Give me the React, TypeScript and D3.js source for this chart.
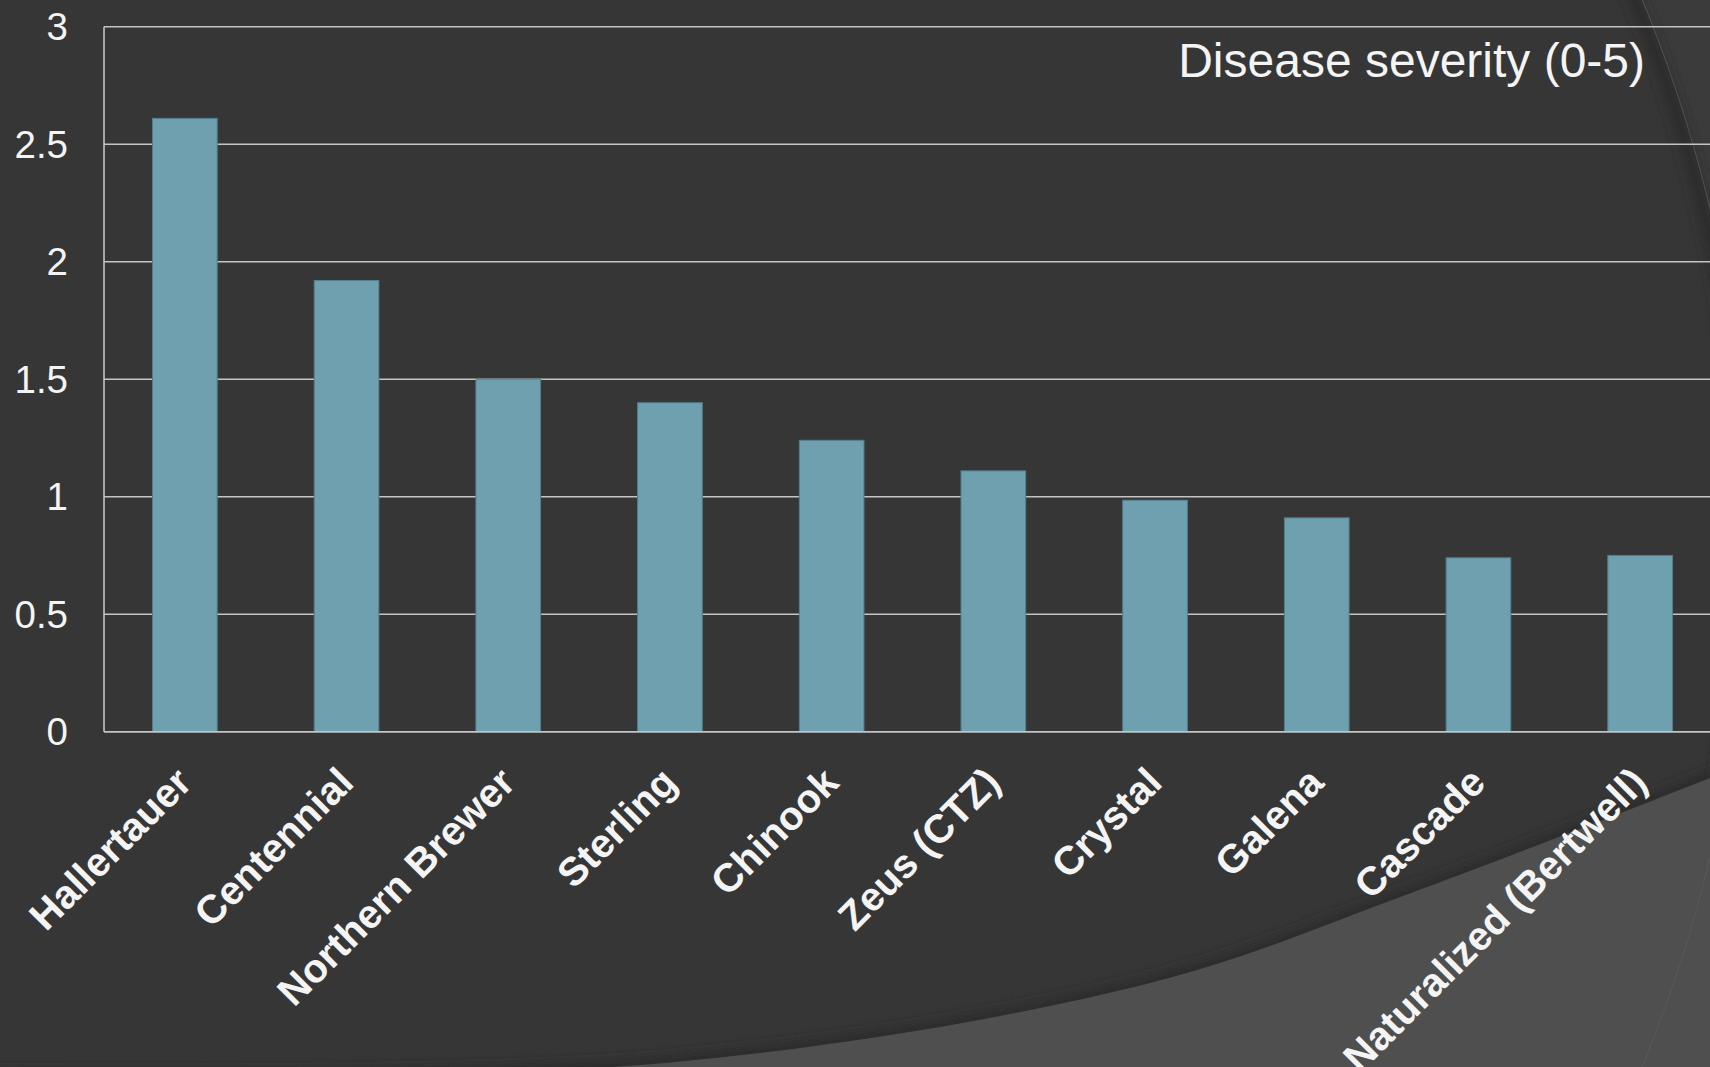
import * as d3 from 'd3'

// hop varieties and mean disease severity (0-5 scale)
const varieties = [
  'Hallertauer',
  'Centennial',
  'Northern Brewer',
  'Sterling',
  'Chinook',
  'Zeus (CTZ)',
  'Crystal',
  'Galena',
  'Cascade',
  'Naturalized (Bertwell)',
]
const severity = [2.61, 1.92, 1.5, 1.4, 1.24, 1.11, 0.985, 0.91, 0.74, 0.75]
const yTicks = [0, 0.5, 1, 1.5, 2, 2.5, 3]
const yTickLabels = ['0', '0.5', '1', '1.5', '2', '2.5', '3']
const title = 'Disease severity (0-5)'

const width = 1710
const height = 1067
const marginLeft = 104
const marginTop = 26.7
const plotBottom = 731.7
const step = 161.7

export default function App() {
  const x = d3
    .scaleBand<string>()
    .domain(varieties)
    .range([marginLeft, marginLeft + step * varieties.length])
    .paddingInner(0.6)
    .paddingOuter(0.3)

  const y = d3.scaleLinear().domain([0, 3]).range([plotBottom, marginTop])

  // slide background decoration
  const lowerEdge = d3.line().curve(d3.curveCatmullRom)([
    [-20, 1076],
    [665, 1063],
    [1150, 983],
    [1411, 893],
    [1730, 770],
  ])

  const font = '"Liberation Sans", Arial, sans-serif'
  const textColor = '#f4f4f4'
  const gridColor = '#c4c4c4'

  return (
    <svg
      width={width}
      height={height}
      style={{ position: 'absolute', left: 0, top: 0, display: 'block' }}
    >
      <defs>
        <filter id="blur" x="-10%" y="-10%" width="120%" height="120%">
          <feGaussianBlur stdDeviation="6" />
        </filter>
        <clipPath id="page">
          <rect width={width} height={height} />
        </clipPath>
      </defs>

      <g clipPath="url(#page)">
        <rect width={width} height={height} fill="#3b3b3b" />
        <circle cx={349} cy={533} r={1399} fill="#363636" />
        <circle
          cx={349}
          cy={533}
          r={1392}
          fill="none"
          stroke="#2c2c2c"
          strokeWidth={12}
          filter="url(#blur)"
        />
        <path
          d={`${lowerEdge} L1730,1090 L-20,1090 Z`}
          fill="#2a2a2a"
          transform="translate(0,-6)"
          filter="url(#blur)"
        />
        <path d={`${lowerEdge} L1730,1090 L-20,1090 Z`} fill="#4f4f4f" />
        <circle
          cx={349}
          cy={533}
          r={1399}
          fill="none"
          stroke="#5a5a5a"
          strokeWidth={1.2}
          opacity={0.7}
        />
      </g>

      {/* gridlines */}
      <g stroke={gridColor} strokeWidth={1.6}>
        {yTicks.map((t) => (
          <line key={t} x1={marginLeft} x2={width} y1={y(t)} y2={y(t)} />
        ))}
        <line x1={marginLeft} x2={marginLeft} y1={y(3)} y2={y(0)} />
      </g>

      {/* bars */}
      <g fill="#6fa0b0" stroke="#507f8f" strokeWidth={1}>
        {varieties.map((v, i) => (
          <rect
            key={v}
            x={x(v)}
            y={y(severity[i])}
            width={x.bandwidth()}
            height={y(0) - y(severity[i])}
          />
        ))}
      </g>
      <line
        x1={marginLeft}
        x2={width}
        y1={y(0)}
        y2={y(0)}
        stroke={gridColor}
        strokeWidth={1.6}
      />

      {/* y tick labels */}
      <g fontFamily={font} fontSize={38.5} fill={textColor} textAnchor="end">
        {yTicks.map((t, i) => (
          <text key={t} x={68} y={y(t)} dy="0.35em">
            {yTickLabels[i]}
          </text>
        ))}
      </g>

      {/* category labels */}
      <g
        fontFamily={font}
        fontSize={40}
        fontWeight="bold"
        fill={textColor}
        textAnchor="end"
      >
        {varieties.map((v) => (
          <text
            key={v}
            transform={`translate(${(x(v) ?? 0) + x.bandwidth() / 2 + 9},${
              y(0) + 53
            }) rotate(-45)`}
          >
            {v}
          </text>
        ))}
      </g>

      <text
        x={1645}
        y={77}
        fontFamily={font}
        fontSize={48}
        fill={textColor}
        textAnchor="end"
      >
        {title}
      </text>
    </svg>
  )
}
